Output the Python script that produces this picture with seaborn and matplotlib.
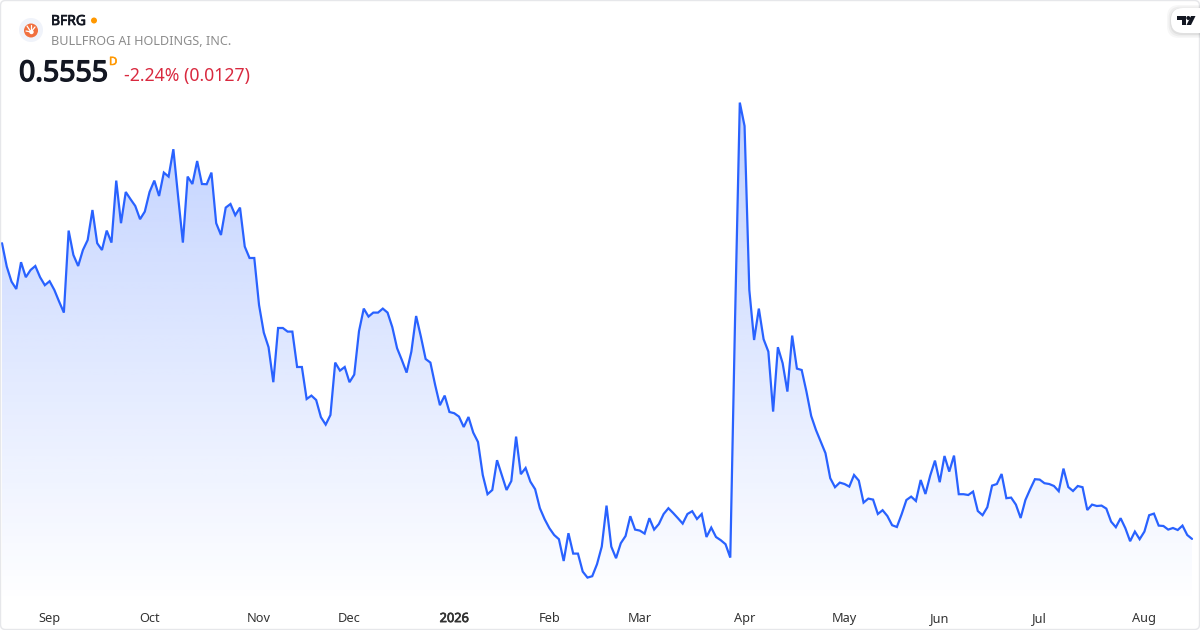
"""BFRG one year area chart"""
import numpy as np
import pandas as pd
import seaborn as sns
import matplotlib.pyplot as plt
import matplotlib.patheffects as pe
from matplotlib.patches import Circle, FancyBboxPatch, Polygon

WIDTH = 1200
HEIGHT = 630
LINE_COLOR = '#2962FF'
FONT = ['Noto Sans', 'DejaVu Sans']

prices = [
    2.034, 1.917, 1.842, 1.805, 1.939, 1.864, 1.900, 1.920, 1.864, 1.824,
    1.844, 1.800, 1.742, 1.687, 2.097, 1.975, 1.920, 2.000, 2.050, 2.200,
    2.034, 2.000, 2.097, 2.037, 2.347, 2.134, 2.290, 2.254, 2.220, 2.154,
    2.192, 2.290, 2.347, 2.270, 2.387, 2.367, 2.504, 2.267, 2.037, 2.367,
    2.330, 2.445, 2.330, 2.329, 2.387, 2.134, 2.075, 2.212, 2.230, 2.174,
    2.212, 2.017, 1.960, 1.960, 1.725, 1.587, 1.514, 1.339, 1.610, 1.610,
    1.592, 1.592, 1.415, 1.415, 1.255, 1.272, 1.250, 1.164, 1.127, 1.175,
    1.437, 1.397, 1.415, 1.339, 1.377, 1.594, 1.707, 1.667, 1.687, 1.687,
    1.707, 1.687, 1.614, 1.509, 1.450, 1.387, 1.492, 1.670, 1.567, 1.455,
    1.437, 1.325, 1.224, 1.272, 1.190, 1.184, 1.167, 1.115, 1.165, 1.087,
    1.040, 0.875, 0.779, 0.800, 0.949, 0.875, 0.800, 0.845, 1.067, 0.879,
    0.910, 0.842, 0.804, 0.709, 0.654, 0.609, 0.575, 0.554, 0.445, 0.584,
    0.482, 0.482, 0.392, 0.362, 0.369, 0.429, 0.517, 0.722, 0.517, 0.459,
    0.534, 0.570, 0.669, 0.602, 0.597, 0.582, 0.659, 0.602, 0.630, 0.680,
    0.709, 0.685, 0.659, 0.632, 0.680, 0.694, 0.655, 0.680, 0.565, 0.612,
    0.565, 0.549, 0.529, 0.462, 1.650, 2.737, 2.620, 1.800, 1.550, 1.707,
    1.554, 1.492, 1.192, 1.514, 1.434, 1.292, 1.572, 1.407, 1.400, 1.292,
    1.170, 1.100, 1.042, 0.984, 0.859, 0.814, 0.837, 0.830, 0.817, 0.875,
    0.847, 0.737, 0.757, 0.752, 0.680, 0.699, 0.670, 0.624, 0.615, 0.679,
    0.750, 0.767, 0.745, 0.850, 0.780, 0.872, 0.947, 0.839, 0.970, 0.892,
    0.972, 0.779, 0.779, 0.775, 0.792, 0.695, 0.674, 0.714, 0.822, 0.830,
    0.880, 0.759, 0.762, 0.727, 0.660, 0.750, 0.804, 0.854, 0.852, 0.834,
    0.830, 0.820, 0.794, 0.907, 0.815, 0.795, 0.820, 0.814, 0.700, 0.727,
    0.720, 0.722, 0.707, 0.642, 0.614, 0.659, 0.609, 0.544, 0.592, 0.554,
    0.592, 0.674, 0.682, 0.622, 0.620, 0.602, 0.610, 0.600, 0.622, 0.575,
    0.5555,
]
# trading day number of the first session of each month
tick_days = [10, 31, 54, 73, 95, 115, 134, 156, 177, 197, 218, 240]
tick_labels = ['Sep', 'Oct', 'Nov', 'Dec', '2026', 'Feb', 'Mar', 'Apr', 'May', 'Jun', 'Jul', 'Aug']


def embolden(text, width):
    """Noto Sans only comes in one weight here, so thicken the glyphs with a stroke"""
    text.set_path_effects([pe.withStroke(linewidth=width, foreground=text.get_color())])


sns.set_theme(style='white')
plt.rcParams['font.family'] = FONT

df = pd.DataFrame({'day': np.arange(len(prices)), 'price': prices})

fig = plt.figure(figsize=(WIDTH / 100, HEIGHT / 100), dpi=100, facecolor='white')
# plot area runs from the top edge down to 26px above the bottom
ax = fig.add_axes([0, 26 / HEIGHT, 1, 604 / HEIGHT])
ax.set_facecolor('white')

sns.lineplot(data=df, x='day', y='price', ax=ax, color=LINE_COLOR, linewidth=1.6, zorder=3)
ax.lines[0].set_solid_joinstyle('miter')

# vertical fade under the line
fade = np.zeros((256, 2, 4))
fade[..., :3] = [41 / 255, 98 / 255, 1.0]
fade[..., 3] = np.linspace(0.30, 0.0, 256)[:, None]
image = ax.imshow(fade, extent=(-0.42, 251.68, 0.23, 2.8), origin='upper', aspect='auto', zorder=1)
area = ax.fill_between(df['day'], df['price'], 0.23, color='none', linewidth=0)
image.set_clip_path(area.get_paths()[0], transform=ax.transData)
ax.set_xlim(-0.42, 251.68)
ax.set_ylim(0.23, 3.25)

ax.set_xticks(tick_days)
ax.set_xticklabels(tick_labels)
ax.tick_params(axis='x', length=0, pad=13)
for label in ax.get_xticklabels():
    label.set_fontsize(9.2)
    label.set_color('#333333')
    label.set_fontfamily(FONT)
    label.set_verticalalignment('baseline')
    if label.get_text() == '2026':
        embolden(label, 0.5)
ax.set_yticks([])
ax.set_xlabel('')
ax.set_ylabel('')
sns.despine(ax=ax, left=True, bottom=True)

# header and frame are placed in pixels on a second, transparent axes
top = fig.add_axes([0, 0, 1, 1], facecolor='none')
top.set_xlim(0, WIDTH)
top.set_ylim(HEIGHT, 0)
top.axis('off')

top.add_patch(FancyBboxPatch((0.5, 0.5), WIDTH - 1, HEIGHT - 1, boxstyle='round,pad=0,rounding_size=5',
                             fc='none', ec='#E6E7EA', lw=1.0, clip_on=False))

top.add_patch(Circle((31, 30), 12, fc='#F0F3FA', ec='none'))
top.add_patch(Circle((31, 30.5), 7, fc='#F1703F', ec='none'))
for x1, y1 in [(27, 26), (31, 25), (35, 27), (26, 31)]:
    top.plot([31, x1], [32, y1], color='white', lw=0.9, solid_capstyle='round')
top.add_patch(Circle((31.5, 32), 2.2, fc='white', ec='none'))

name = top.text(51, 21.5, 'BFRG', fontsize=10, color='#131722', va='center', ha='left')
embolden(name, 0.5)
top.add_patch(Circle((94, 20.5), 3, fc='#FF9800', ec='none'))
top.text(51, 41.5, 'BULLFROG AI HOLDINGS, INC.', fontsize=9.1, color='#8C8C8C', va='center', ha='left')
last = top.text(19, 73.5, '0.5555', fontsize=20.5, color='#131722', va='center', ha='left')
embolden(last, 1.0)
flag = top.text(109, 62.5, 'D', fontsize=8.2, color='#FF9800', va='center', ha='left')
embolden(flag, 0.4)
top.text(124, 76.5, '-2.24% (0.0127)', fontsize=12.7, color='#D9293F', va='center', ha='left')

# watermark pill with its soft shadow
for grow, shade in [(4, 0.03), (2.5, 0.04), (1, 0.05)]:
    top.add_patch(FancyBboxPatch((1171 - grow, 8 - grow + 1), 60, 25 + 2 * grow,
                                 boxstyle='round,pad=0,rounding_size=12', fc='black', ec='none', alpha=shade))
top.add_patch(FancyBboxPatch((1171, 8), 60, 25, boxstyle='round,pad=0,rounding_size=12', fc='white', ec='none'))
top.add_patch(Polygon([(1177, 16), (1186, 16), (1186, 25), (1182, 25), (1182, 20), (1177, 20)], fc='#131722', ec='none'))
top.add_patch(Circle((1188.3, 18), 2, fc='#131722', ec='none'))
top.add_patch(Polygon([(1191, 16), (1195.5, 16), (1191, 25), (1186.5, 25)], fc='#131722', ec='none'))

plt.savefig('out.png', dpi=100, facecolor='white')
plt.close()
